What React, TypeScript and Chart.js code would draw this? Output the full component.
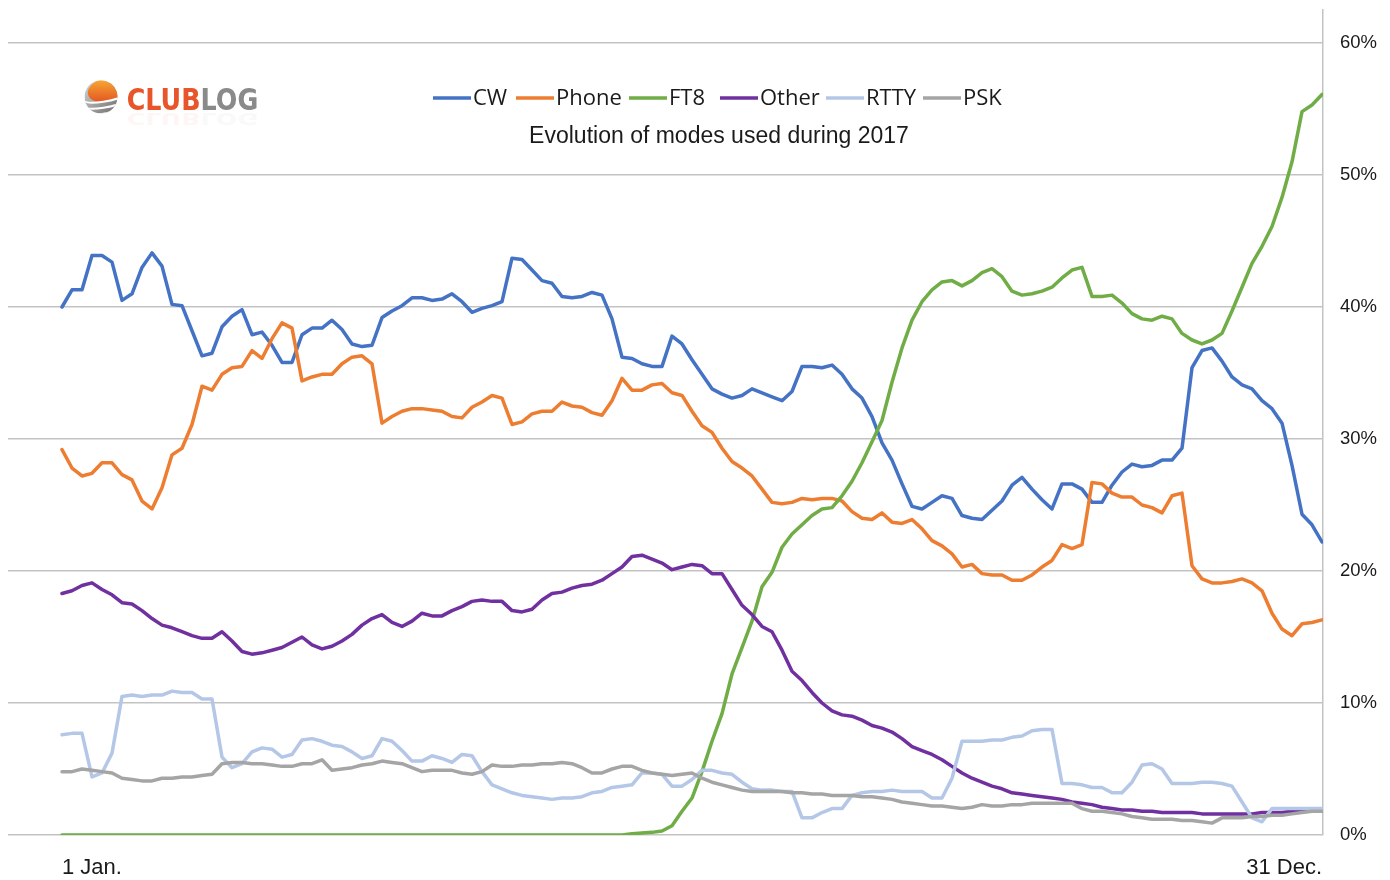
import React, { useEffect, useRef } from 'react';
import { Chart, registerables } from 'chart.js';

Chart.register(...registerables);

// ---------- data (share of QSOs, %), one sample every ~2.9 days ----------
const SERIES_NAMES = ['CW', 'Phone', 'FT8', 'Other', 'RTTY', 'PSK'];
const SERIES_COLORS = ['#4472c4', '#ed7d31', '#70ad47', '#7030a0', '#b4c7e7', '#a5a5a5'];
const X_TICK_LABELS = ['1 Jan.', '31 Dec.'];
const Y_TICKS = [0, 10, 20, 30, 40, 50, 60];
const TITLE = 'Evolution of modes used during 2017';

const CW = [
  40.0, 41.3, 41.3, 43.9, 43.9, 43.4, 40.5, 41.0, 43.0, 44.1,
  43.1, 40.2, 40.1, 38.2, 36.3, 36.5, 38.5, 39.3, 39.8, 37.9,
  38.1, 37.1, 35.8, 35.8, 37.9, 38.4, 38.4, 39.0, 38.3, 37.2,
  37.0, 37.1, 39.2, 39.7, 40.1, 40.7, 40.7, 40.5, 40.6, 41.0,
  40.4, 39.6, 39.9, 40.1, 40.4, 43.7, 43.6, 42.8, 42.0, 41.8,
  40.8, 40.7, 40.8, 41.1, 40.9, 39.1, 36.2, 36.1, 35.7, 35.5,
  35.5, 37.8, 37.2, 36.0, 34.9, 33.8, 33.4, 33.1, 33.3, 33.8,
  33.5, 33.2, 32.9, 33.6, 35.5, 35.5, 35.4, 35.6, 34.9, 33.8,
  33.1, 31.7, 29.7, 28.4, 26.6, 24.9, 24.7, 25.2, 25.7, 25.5,
  24.2, 24.0, 23.9, 24.6, 25.3, 26.5, 27.1, 26.2, 25.4, 24.7,
  26.6, 26.6, 26.2, 25.2, 25.2, 26.5, 27.5, 28.1, 27.9, 28.0,
  28.4, 28.4, 29.3, 35.4, 36.7, 36.9, 35.9, 34.7, 34.1, 33.8,
  32.9, 32.3, 31.2, 28.0, 24.3, 23.5, 22.2,
];

const PHONE = [
  29.2, 27.8, 27.2, 27.4, 28.2, 28.2, 27.3, 26.9, 25.3, 24.7,
  26.3, 28.8, 29.3, 31.1, 34.0, 33.7, 34.9, 35.4, 35.5, 36.7,
  36.1, 37.6, 38.8, 38.4, 34.4, 34.7, 34.9, 34.9, 35.7, 36.2,
  36.3, 35.7, 31.2, 31.7, 32.1, 32.3, 32.3, 32.2, 32.1, 31.7,
  31.6, 32.4, 32.8, 33.3, 33.1, 31.1, 31.3, 31.9, 32.1, 32.1,
  32.8, 32.5, 32.4, 32.0, 31.8, 32.9, 34.6, 33.7, 33.7, 34.1,
  34.2, 33.5, 33.3, 32.1, 31.0, 30.5, 29.3, 28.3, 27.8, 27.2,
  26.2, 25.2, 25.1, 25.2, 25.5, 25.4, 25.5, 25.5, 25.3, 24.5,
  24.0, 23.9, 24.4, 23.7, 23.6, 23.9, 23.2, 22.3, 21.9, 21.3,
  20.3, 20.5, 19.8, 19.7, 19.7, 19.3, 19.3, 19.7, 20.3, 20.8,
  22.0, 21.7, 22.0, 26.7, 26.6, 25.9, 25.6, 25.6, 25.0, 24.8,
  24.4, 25.7, 25.9, 20.4, 19.4, 19.1, 19.1, 19.2, 19.4, 19.1,
  18.5, 16.8, 15.6, 15.1, 16.0, 16.1, 16.3,
];

const FT8 = [
  0, 0, 0, 0, 0, 0, 0, 0, 0, 0,
  0, 0, 0, 0, 0, 0, 0, 0, 0, 0,
  0, 0, 0, 0, 0, 0, 0, 0, 0, 0,
  0, 0, 0, 0, 0, 0, 0, 0, 0, 0,
  0, 0, 0, 0, 0, 0, 0, 0, 0, 0,
  0, 0, 0, 0, 0, 0, 0, 0.1, 0.15, 0.2,
  0.3, 0.7, 1.8, 2.8, 4.8, 7.1, 9.2, 12.2, 14.2, 16.2,
  18.8, 19.9, 21.8, 22.8, 23.5, 24.2, 24.7, 24.8, 25.7, 26.8,
  28.2, 29.8, 31.4, 34.3, 36.9, 39.0, 40.4, 41.3, 41.9, 42.0,
  41.6, 42.0, 42.6, 42.9, 42.3, 41.2, 40.9, 41.0, 41.2, 41.5,
  42.2, 42.8, 43.0, 40.8, 40.8, 40.9, 40.3, 39.5, 39.1, 39.0,
  39.3, 39.1, 38.0, 37.5, 37.2, 37.5, 38.0, 39.7, 41.5, 43.3,
  44.6, 46.1, 48.3, 51.0, 54.8, 55.3, 56.1,
];

const OTHER = [
  18.3, 18.5, 18.9, 19.1, 18.6, 18.2, 17.6, 17.5, 17.0, 16.4,
  15.9, 15.7, 15.4, 15.1, 14.9, 14.9, 15.4, 14.7, 13.9, 13.7,
  13.8, 14.0, 14.2, 14.6, 15.0, 14.4, 14.1, 14.3, 14.7, 15.2,
  15.9, 16.4, 16.7, 16.1, 15.8, 16.2, 16.8, 16.6, 16.6, 17.0,
  17.3, 17.7, 17.8, 17.7, 17.7, 17.0, 16.9, 17.1, 17.8, 18.3,
  18.4, 18.7, 18.9, 19.0, 19.3, 19.8, 20.3, 21.1, 21.2, 20.9,
  20.6, 20.1, 20.3, 20.5, 20.4, 19.8, 19.8, 18.6, 17.4, 16.7,
  15.8, 15.4, 14.0, 12.4, 11.7, 10.8, 10.0, 9.4, 9.1, 9.0,
  8.7, 8.3, 8.1, 7.8, 7.3, 6.7, 6.4, 6.1, 5.7, 5.2,
  4.7, 4.3, 4.0, 3.7, 3.5, 3.2, 3.1, 3.0, 2.9, 2.8,
  2.7, 2.5, 2.4, 2.3, 2.1, 2.0, 1.9, 1.9, 1.8, 1.8,
  1.7, 1.7, 1.7, 1.7, 1.6, 1.6, 1.6, 1.6, 1.6, 1.6,
  1.7, 1.7, 1.7, 1.8, 1.8, 1.8, 1.8,
];

const RTTY = [
  7.6, 7.7, 7.7, 4.4, 4.7, 6.2, 10.5, 10.6, 10.5, 10.6,
  10.6, 10.9, 10.8, 10.8, 10.3, 10.3, 5.9, 5.1, 5.4, 6.3,
  6.6, 6.5, 5.9, 6.1, 7.2, 7.3, 7.1, 6.8, 6.7, 6.3,
  5.8, 6.0, 7.3, 7.1, 6.4, 5.6, 5.6, 6.0, 5.8, 5.5,
  6.1, 6.0, 4.8, 3.8, 3.5, 3.2, 3.0, 2.9, 2.8, 2.7,
  2.8, 2.8, 2.9, 3.2, 3.3, 3.6, 3.7, 3.8, 4.7, 4.7,
  4.6, 3.7, 3.7, 4.2, 4.9, 4.9, 4.7, 4.6, 4.0, 3.5,
  3.4, 3.4, 3.3, 3.3, 1.3, 1.3, 1.7, 2.0, 2.0, 3.0,
  3.2, 3.3, 3.3, 3.4, 3.3, 3.3, 3.3, 2.8, 2.8, 4.3,
  7.1, 7.1, 7.1, 7.2, 7.2, 7.4, 7.5, 7.9, 8.0, 8.0,
  3.9, 3.9, 3.8, 3.6, 3.6, 3.2, 3.2, 4.0, 5.3, 5.4,
  5.0, 3.9, 3.9, 3.9, 4.0, 4.0, 3.9, 3.7, 2.5, 1.3,
  1.0, 2.0, 2.0, 2.0, 2.0, 2.0, 2.0,
];

const PSK = [
  4.8, 4.8, 5.0, 4.9, 4.8, 4.7, 4.3, 4.2, 4.1, 4.1,
  4.3, 4.3, 4.4, 4.4, 4.5, 4.6, 5.4, 5.5, 5.5, 5.4,
  5.4, 5.3, 5.2, 5.2, 5.4, 5.4, 5.7, 4.9, 5.0, 5.1,
  5.3, 5.4, 5.6, 5.5, 5.4, 5.1, 4.8, 4.9, 4.9, 4.9,
  4.7, 4.6, 4.8, 5.3, 5.2, 5.2, 5.3, 5.3, 5.4, 5.4,
  5.5, 5.4, 5.1, 4.7, 4.7, 5.0, 5.2, 5.2, 4.9, 4.7,
  4.6, 4.5, 4.6, 4.7, 4.3, 4.0, 3.8, 3.6, 3.4, 3.3,
  3.3, 3.3, 3.3, 3.2, 3.2, 3.1, 3.1, 3.0, 3.0, 3.0,
  2.9, 2.9, 2.8, 2.7, 2.5, 2.4, 2.3, 2.2, 2.2, 2.1,
  2.0, 2.1, 2.3, 2.2, 2.2, 2.3, 2.3, 2.4, 2.4, 2.4,
  2.4, 2.4, 2.0, 1.8, 1.8, 1.7, 1.6, 1.4, 1.3, 1.2,
  1.2, 1.2, 1.1, 1.1, 1.0, 0.9, 1.3, 1.3, 1.3, 1.4,
  1.4, 1.5, 1.5, 1.6, 1.7, 1.8, 1.8,
];

const SERIES_VALUES = [CW, PHONE, FT8, OTHER, RTTY, PSK];
const LAST = CW.length - 1;

// ---------- overlay: logo, legend, title ----------
const LEGEND_X = [433, 516, 629, 720, 826, 923];

function drawLogo(ctx: CanvasRenderingContext2D) {
  const cx = 101, cy = 97, r = 16.5;
  // sphere
  ctx.save();
  ctx.beginPath();
  ctx.arc(cx, cy, r, 0, Math.PI * 2);
  ctx.clip();
  const gg = ctx.createLinearGradient(cx - r, cy - r, cx + r, cy + r);
  gg.addColorStop(0, '#d8d8d8');
  gg.addColorStop(1, '#6e6e6e');
  ctx.fillStyle = gg;
  ctx.fillRect(cx - r, cy - r, 2 * r, 2 * r);
  const og = ctx.createLinearGradient(cx, cy - r, cx, cy + 4);
  og.addColorStop(0, '#f7a531');
  og.addColorStop(1, '#e45a25');
  ctx.fillStyle = og;
  ctx.beginPath();
  ctx.ellipse(cx + 5, cy - 7, r + 2, r * 0.72, -0.25, 0, Math.PI * 2);
  ctx.fill();
  ctx.strokeStyle = '#ffffff';
  ctx.lineWidth = 2;
  for (let k = 0; k < 3; k++) {
    ctx.beginPath();
    ctx.ellipse(cx + 6, cy - 2 + k * 6, r + 8, 6, -0.2, 0.2, Math.PI - 0.2);
    ctx.stroke();
  }
  ctx.restore();

  // wordmark
  ctx.save();
  ctx.font = 'bold 30px "DejaVu Sans"';
  ctx.textBaseline = 'alphabetic';
  ctx.textAlign = 'left';
  const w1 = ctx.measureText('CLUB').width;
  const w2 = ctx.measureText('LOG').width;
  const sx = 131.6 / (w1 + w2);
  const drawWord = (alpha: number) => {
    ctx.globalAlpha = alpha;
    ctx.fillStyle = '#e8552a';
    ctx.fillText('CLUB', 0, 0);
    ctx.fillStyle = '#8a8a8a';
    ctx.fillText('LOG', w1, 0);
  };
  ctx.save();
  ctx.translate(126.7, 110);
  ctx.scale(sx, 1);
  drawWord(1);
  ctx.restore();
  ctx.save();
  ctx.translate(126.7, 113);
  ctx.scale(sx, -0.5);
  drawWord(0.05);
  ctx.restore();
  ctx.restore();
}

const overlayPlugin = {
  id: 'overlay',
  afterDraw(chart: any) {
    const ctx: CanvasRenderingContext2D = chart.ctx;
    ctx.save();
    drawLogo(ctx);
    // legend
    ctx.font = '22px "Open Sans"';
    ctx.textBaseline = 'middle';
    ctx.textAlign = 'left';
    chart.data.datasets.forEach((ds: any, k: number) => {
      const x = LEGEND_X[k];
      ctx.strokeStyle = ds.borderColor;
      ctx.lineWidth = 3.5;
      ctx.beginPath();
      ctx.moveTo(x, 98);
      ctx.lineTo(x + 38, 98);
      ctx.stroke();
      ctx.fillStyle = '#1a1a1a';
      ctx.fillText(ds.label, x + 40, 99);
    });
    // title
    ctx.font = '23px "Liberation Sans"';
    ctx.textAlign = 'center';
    ctx.fillStyle = '#1a1a1a';
    ctx.fillText(TITLE, 719, 137);
    ctx.restore();
  },
};

export default function App() {
  const ref = useRef<HTMLCanvasElement | null>(null);

  useEffect(() => {
    if (!ref.current) return;
    const chart = new Chart(ref.current, {
      type: 'line',
      data: {
        datasets: SERIES_NAMES.map((name, k) => ({
          label: name,
          data: SERIES_VALUES[k].map((v, i) => ({ x: i, y: v })),
          borderColor: SERIES_COLORS[k],
          backgroundColor: SERIES_COLORS[k],
          borderWidth: 3.5,
          pointRadius: 0,
          tension: 0,
          fill: false,
          order: SERIES_NAMES.length - k,
          borderJoinStyle: 'round',
          borderCapStyle: 'round',
        })),
      },
      options: {
        responsive: false,
        animation: false,
        devicePixelRatio: 1,
        layout: { padding: { left: 8, top: 10, right: 0, bottom: 0 } },
        plugins: {
          legend: { display: false },
          title: { display: false },
          tooltip: { enabled: false },
        },
        scales: {
          x: {
            type: 'linear',
            min: -5.4,
            max: LAST + 0.1,
            grid: { display: false, drawTicks: false },
            border: { display: false },
            afterBuildTicks: (s: any) => {
              s.ticks = [{ value: 0 }, { value: LAST }];
            },
            afterFit: (s: any) => {
              s.height = 45;
              s.paddingLeft = 0;
              s.paddingRight = 0;
            },
            ticks: {
              align: 'inner',
              autoSkip: false,
              maxRotation: 0,
              padding: 20,
              color: '#1a1a1a',
              font: { family: 'Liberation Sans', size: 22 },
              callback: (v: any) => (v === 0 ? X_TICK_LABELS[0] : X_TICK_LABELS[1]),
            },
          },
          y: {
            position: 'right',
            min: 0,
            max: 62.5,
            afterBuildTicks: (s: any) => {
              s.ticks = Y_TICKS.map((v) => ({ value: v }));
            },
            afterFit: (s: any) => {
              s.width = 67;
              s.paddingTop = 0;
              s.paddingBottom = 0;
            },
            grid: { color: '#c3c3c3', lineWidth: 1.5, drawTicks: false },
            border: { display: true, color: '#c3c3c3', width: 1.5 },
            ticks: {
              padding: 17,
              color: '#1a1a1a',
              font: { family: 'Liberation Sans', size: 18.5 },
              callback: (v: any) => v + '%',
            },
          },
        },
      } as any,
      plugins: [overlayPlugin],
    });
    return () => chart.destroy();
  }, []);

  return (
    <div style={{ position: 'fixed', left: 0, top: 0, width: 1390, height: 880, background: '#ffffff' }}>
      <canvas ref={ref} width={1390} height={880} style={{ display: 'block' }} />
    </div>
  );
}
